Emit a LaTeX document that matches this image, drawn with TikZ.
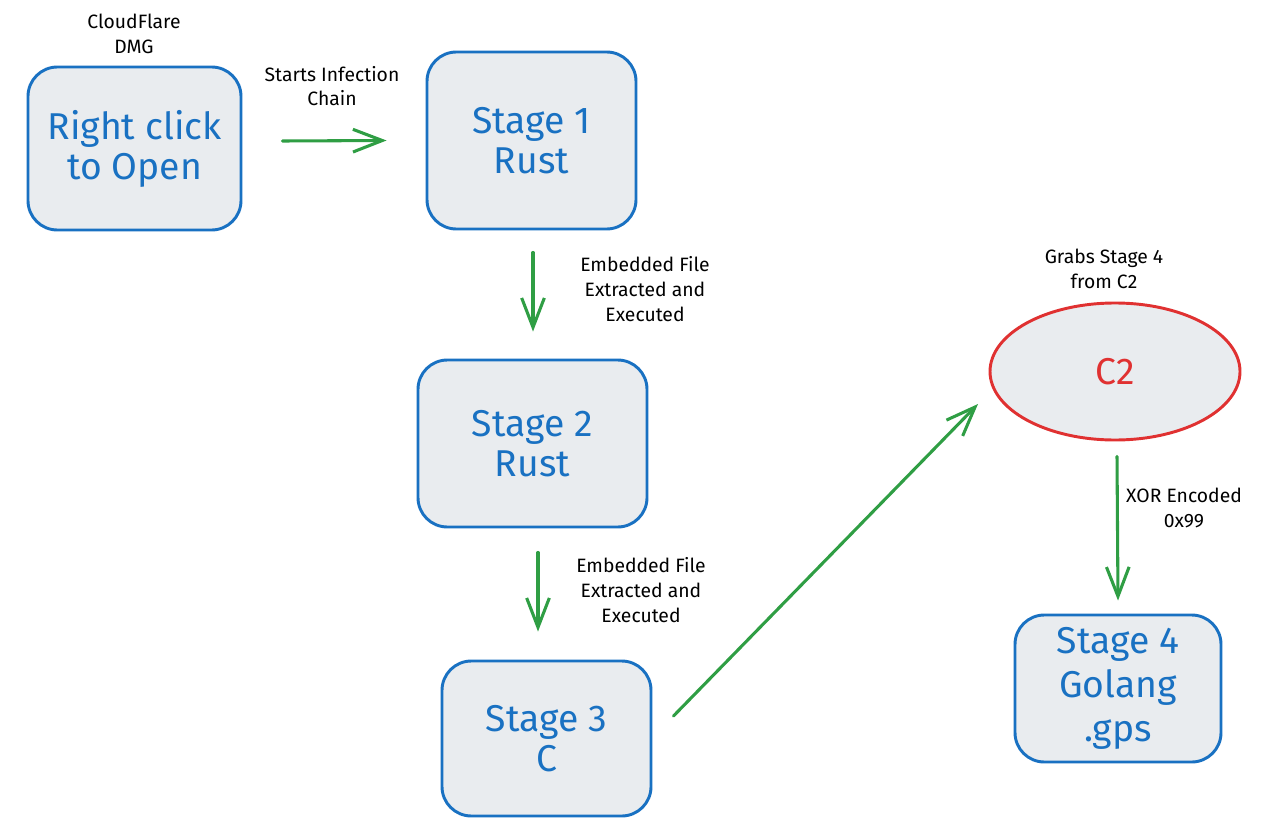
\documentclass[tikz,border=0pt]{standalone}
\usepackage{fontspec}
\setmainfont{Fira Sans}
\usetikzlibrary{arrows.meta,calc,shapes.geometric}
\definecolor{boxfill}{HTML}{E9ECEF}
\definecolor{boxblue}{HTML}{1971C2}
\definecolor{arrgreen}{HTML}{2F9E44}
\definecolor{c2red}{HTML}{E03131}
\tikzset{
  box/.style={draw=boxblue, fill=boxfill, line width=2.2pt, rounded corners=22pt,
    text=boxblue, align=center, inner sep=0pt,
    font=\fontsize{28}{30}\selectfont},
  oval/.style={ellipse, draw=c2red, fill=boxfill, line width=2.2pt, text=c2red,
    inner sep=0pt, font=\fontsize{28}{30}\selectfont},
  lbl/.style={align=center, inner sep=0pt, text=black, font=\fontsize{14.5}{18.5}\selectfont},
  arr/.style={draw=arrgreen, line width=2.3pt, line cap=round,
    -{Straight Barb[length=22pt,width=17pt,line width=2.3pt]}}
}
\begin{document}
\begin{tikzpicture}[x=0.75pt,y=-0.75pt]
\path[use as bounding box, fill=white] (0,0) rectangle (1280,838);

\node[box, minimum width=213*0.75pt, minimum height=163*0.75pt] (rc) at (134.5,148.5) {Right click\\to Open};
\node[box, minimum width=209*0.75pt, minimum height=177*0.75pt] (s1) at (531.5,140.5) {Stage 1\\Rust};
\node[box, minimum width=229*0.75pt, minimum height=167*0.75pt] (s2) at (532.5,443.5) {Stage 2\\Rust};
\node[box, minimum width=209*0.75pt, minimum height=155*0.75pt] (s3) at (546.5,738.5) {Stage 3\\C};
\node[oval, minimum width=250*0.75pt, minimum height=137*0.75pt] (c2) at (1115,371.5) {C2};
\node[box, minimum width=206*0.75pt, minimum height=147*0.75pt, font=\fontsize{28}{33}\selectfont] (s4) at (1118,688.5) {Stage 4\\Golang\\.gps};

\node[lbl] (l0) at (134,34) {CloudFlare\\DMG};
\node[lbl] (l1) at (332,86) {Starts Infection\\Chain};
\node[lbl] (l2) at (645,289) {Embedded File\\Extracted and\\Executed};
\node[lbl] (l3) at (641,590) {Embedded File\\Extracted and\\Executed};
\node[lbl] (l4) at (1104,269) {Grabs Stage 4\\from C2};
\node[lbl] (l5) at (1184,508) {XOR Encoded\\0x99};

\draw[arr] ($(rc.east)+(40,-7.5)$) -- ($(s1.west)+(-39,0)$);
\draw[arr] ($(s1.south)+(1.5,22)$) -- ($(s2.north)+(0.5,-27)$);
\draw[arr] ($(s2.south)+(5.5,24)$) -- ($(s3.north)+(-8.5,-28)$);
\draw[arr] ($(s3.east)+(21,-22.5)$) -- ($(c2)+(-137,32.5)$);
\draw[arr] ($(c2.south)+(2,15)$) -- ($(s4.north)+(0,-13)$);
\end{tikzpicture}
\end{document}
